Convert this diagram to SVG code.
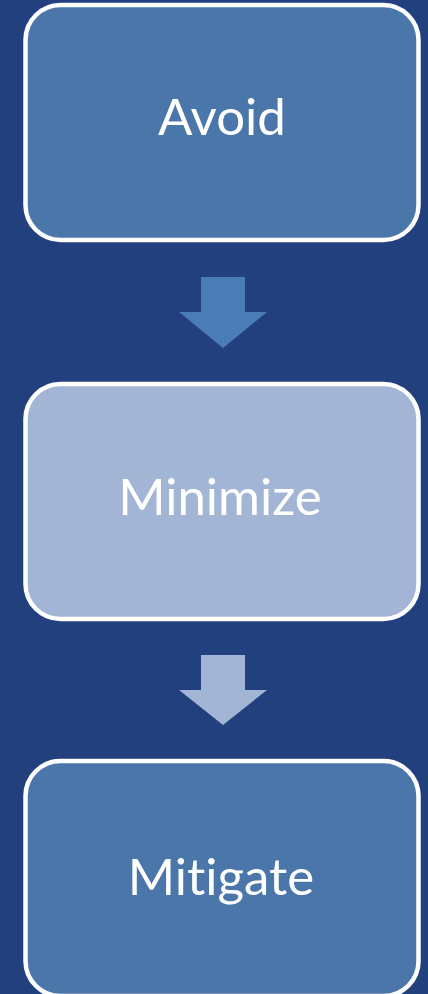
<svg xmlns="http://www.w3.org/2000/svg" width="428" height="994" viewBox="0 0 428 994">
<style>
.box{stroke:#FFFFFF;stroke-width:4.5}
.dark{fill:#4A76AA}
.light{fill:#A3B5D4}
.lbl{font-family:Lato,"Open Sans","Liberation Sans",sans-serif;font-size:51px;fill:#FFFFFF;text-anchor:middle;font-variant-ligatures:none;font-feature-settings:"liga" 0}
</style>
<rect x="0" y="0" width="428" height="994" fill="#22407E"/>
<g id="connectors">
<polygon points="201,277 245,277 245,312 267,312 223,348 179,312 201,312" fill="#4A7CB8"/>
<polygon points="201,655 245,655 245,690 267,690 223,725 179,690 201,690" fill="#A3B5D4"/>
</g>
<g id="avoid">
<rect class="box dark" x="25.5" y="5" width="393" height="235" rx="35"/>
<text class="lbl" x="222" y="135">Avoid</text>
</g>
<g id="minimize">
<rect class="box light" x="25.5" y="384" width="393" height="235" rx="35"/>
<text class="lbl" x="220" y="515">Minimize</text>
</g>
<g id="mitigate">
<rect class="box dark" x="25.5" y="761" width="393" height="235" rx="35"/>
<text class="lbl" x="221" y="895">Mitigate</text>
</g>
</svg>
